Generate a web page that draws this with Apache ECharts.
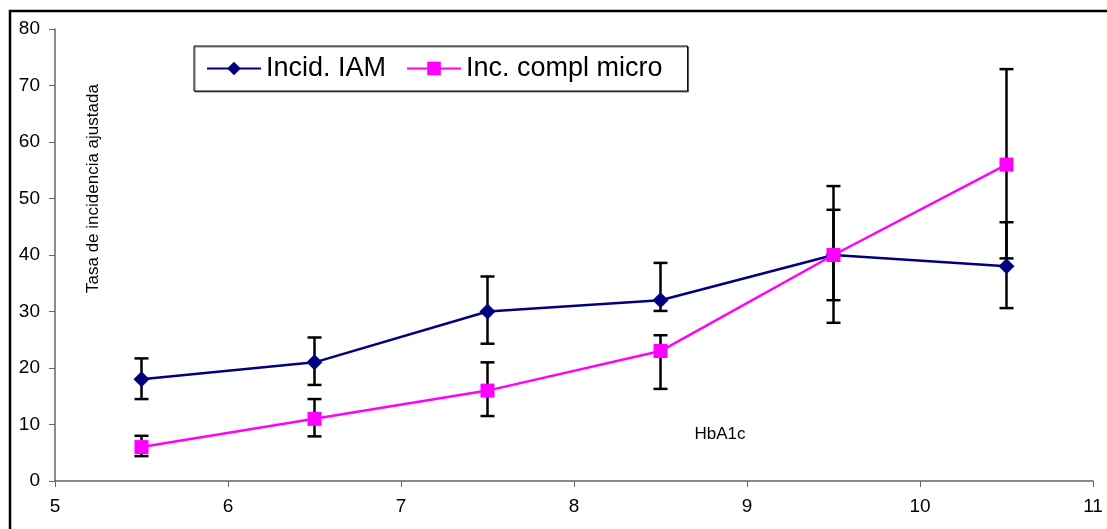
<!DOCTYPE html>
<html>
<head>
<meta charset="utf-8">
<script src="https://cdn.jsdelivr.net/npm/echarts@6/dist/echarts.min.js"></script>
<style>
html,body{margin:0;padding:0;background:#fff;}
#c{width:1107px;height:529px;}
</style>
</head>
<body>
<div id="c"></div>
<script>
// Data
const hba1c = [5.5, 6.5, 7.5, 8.5, 9.5, 10.5];
const iamValues = [18, 21, 30, 32, 40, 38];
const iamLow = [14.5, 17.0, 24.3, 30.1, 32.0, 30.6];
const iamHigh = [21.7, 25.4, 36.2, 38.6, 48.0, 45.8];
const microValues = [6, 11, 16, 23, 40, 56];
const microLow = [4.4, 7.9, 11.5, 16.3, 28.0, 39.4];
const microHigh = [8.0, 14.5, 21.0, 25.8, 52.2, 72.9];
const seriesNames = ['Incid. IAM', 'Inc. compl micro'];
const xTicks = [5, 6, 7, 8, 9, 10, 11];
const yTicks = [0, 10, 20, 30, 40, 50, 60, 70, 80];
const yAxisTitle = 'Tasa de incidencia ajustada';
const xAxisTitle = 'HbA1c';

const FONT = '"Liberation Sans", Arial, sans-serif';

function pairs(xs, ys) { return xs.map((x, i) => [x, ys[i]]); }
function errData(xs, lo, hi) { return xs.map((x, i) => [x, lo[i], hi[i]]); }

function errRender(params, api) {
  const x = api.value(0);
  const lo = api.coord([x, api.value(1)]);
  const hi = api.coord([x, api.value(2)]);
  const cap = 7;
  const style = { stroke: '#000', lineWidth: 2.5, fill: null };
  return {
    type: 'group',
    children: [
      { type: 'line', shape: { x1: lo[0], y1: lo[1], x2: hi[0], y2: hi[1] }, style },
      { type: 'line', shape: { x1: lo[0] - cap, y1: lo[1], x2: lo[0] + cap, y2: lo[1] }, style },
      { type: 'line', shape: { x1: hi[0] - cap, y1: hi[1], x2: hi[0] + cap, y2: hi[1] }, style }
    ]
  };
}

const chart = echarts.init(document.getElementById('c'), null, { renderer: 'canvas' });
chart.setOption({
  animation: false,
  backgroundColor: '#fff',
  grid: { left: 55, right: 14, top: 29, bottom: 48 },
  xAxis: {
    type: 'value', min: xTicks[0], max: xTicks[xTicks.length - 1], interval: 1,
    axisLine: { lineStyle: { color: '#666', width: 1.5 } },
    axisTick: { show: true, length: 6, lineStyle: { color: '#666' } },
    axisLabel: { color: '#000', fontSize: 19, fontFamily: FONT, margin: 16 },
    splitLine: { show: false }
  },
  yAxis: {
    type: 'value', min: yTicks[0], max: yTicks[yTicks.length - 1], interval: 10,
    axisLine: { show: true, lineStyle: { color: '#666', width: 1.5 } },
    axisTick: { show: true, length: 6, lineStyle: { color: '#666' } },
    axisLabel: { color: '#000', fontSize: 19, fontFamily: FONT, margin: 15 },
    splitLine: { show: false }
  },
  legend: {
    left: 194, top: 46,
    data: seriesNames,
    borderColor: '#000', borderWidth: 1,
    padding: [9, 25, 9, 12],
    itemWidth: 54, itemHeight: 17, itemGap: 20,
    textStyle: { fontSize: 27, fontFamily: FONT, color: '#000' },
    shadowColor: 'rgba(0,0,0,0.5)', shadowOffsetX: 1, shadowOffsetY: 1, backgroundColor: '#fff'
  },
  series: [
    {
      name: 'errIAM', type: 'custom', renderItem: errRender, data: errData(hba1c, iamLow, iamHigh), z: 1
    },
    {
      name: 'errMicro', type: 'custom', renderItem: errRender, data: errData(hba1c, microLow, microHigh), z: 1
    },
    {
      name: seriesNames[0], type: 'line', data: pairs(hba1c, iamValues),
      symbol: 'diamond', symbolSize: 16,
      lineStyle: { color: '#000080', width: 2.5 },
      itemStyle: { color: '#000080' }, z: 3
    },
    {
      name: seriesNames[1], type: 'line', data: pairs(hba1c, microValues),
      symbol: 'rect', symbolSize: 14,
      lineStyle: { color: '#ff00ff', width: 2.5 },
      itemStyle: { color: '#ff00ff' }, z: 3
    }
  ],
  graphic: [
    {
      type: 'rect', shape: { x: 10, y: 11, width: 1110, height: 530 },
      style: { fill: null, stroke: '#000', lineWidth: 2.5 }, silent: true, z: 100
    },
    {
      type: 'text', x: 93, y: 293, rotation: Math.PI / 2,
      style: { text: yAxisTitle, font: '17px ' + FONT, fill: '#000', align: 'left', verticalAlign: 'middle' },
      z: 50
    },
    {
      type: 'text', x: 720, y: 434,
      style: { text: xAxisTitle, font: '17px ' + FONT, fill: '#000', align: 'center', verticalAlign: 'middle' },
      z: 50
    }
  ]
});
</script>
</body>
</html>
